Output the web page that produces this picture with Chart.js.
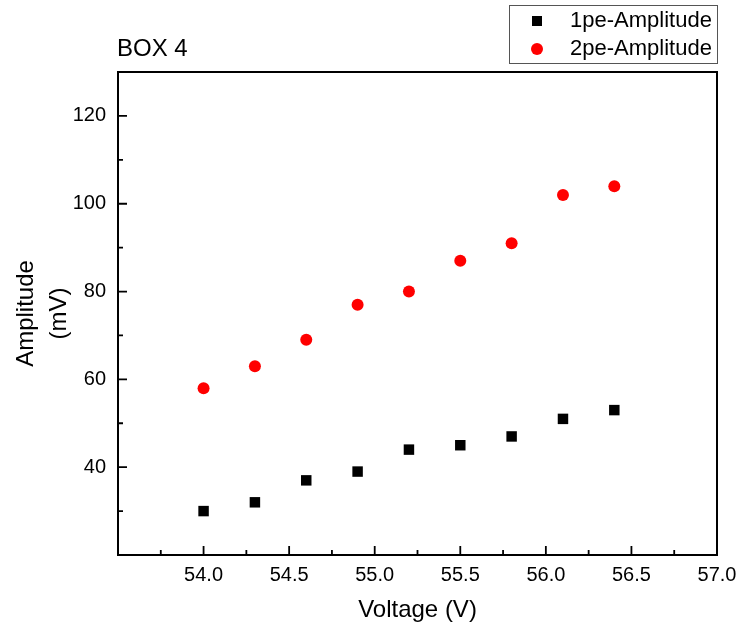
<!DOCTYPE html>
<html>
<head>
<meta charset="utf-8">
<script src="https://cdn.jsdelivr.net/npm/chart.js@4.4.1/dist/chart.umd.min.js"></script>
<style>
  body { margin: 0; background: #fff; }
  canvas { display: block; }
</style>
</head>
<body>
<canvas id="c" width="738" height="627"></canvas>
<script>
const voltages = [54.0, 54.3, 54.6, 54.9, 55.2, 55.5, 55.8, 56.1, 56.4];
const amp1pe = [30, 32, 37, 39, 44, 45, 47, 51, 53];
const amp2pe = [58, 63, 69, 77, 80, 87, 91, 102, 104];
const xTicks = [54.0, 54.5, 55.0, 55.5, 56.0, 56.5, 57.0];
const xMinor = [53.75, 54.25, 54.75, 55.25, 55.75, 56.25, 56.75];
const yTicks = [40, 60, 80, 100, 120];
const yMinor = [30, 50, 70, 90, 110];

Chart.defaults.font.family = '"Liberation Sans", Arial, sans-serif';
Chart.defaults.color = '#000';

function pts(ys) {
  return ys.map((y, i) => ({x: voltages[i], y: y}));
}

// frame, inward ticks, title and legend box
const decor = {
  id: 'decor',
  afterDraw(chart) {
    const ctx = chart.ctx;
    const a = chart.chartArea;
    const xs = chart.scales.x, ys = chart.scales.y;
    ctx.save();
    ctx.strokeStyle = '#000';
    ctx.lineWidth = 2;
    ctx.beginPath();
    ctx.moveTo(a.left, a.top); ctx.lineTo(a.right, a.top); ctx.lineTo(a.right, a.bottom);
    ctx.stroke();

    ctx.lineWidth = 1.8;
    ctx.beginPath();
    xTicks.forEach(v => { const p = xs.getPixelForValue(v); ctx.moveTo(p, a.bottom); ctx.lineTo(p, a.bottom - 9); });
    xMinor.forEach(v => { const p = xs.getPixelForValue(v); ctx.moveTo(p, a.bottom); ctx.lineTo(p, a.bottom - 5); });
    yTicks.forEach(v => { const p = ys.getPixelForValue(v); ctx.moveTo(a.left, p); ctx.lineTo(a.left + 9, p); });
    yMinor.forEach(v => { const p = ys.getPixelForValue(v); ctx.moveTo(a.left, p); ctx.lineTo(a.left + 5, p); });
    ctx.stroke();

    // title
    ctx.fillStyle = '#000';
    ctx.font = '24px "Liberation Sans", Arial, sans-serif';
    ctx.textBaseline = 'middle';
    ctx.textAlign = 'left';
    ctx.fillText('BOX 4', 117, 49);

    // legend
    ctx.strokeStyle = '#555';
    ctx.lineWidth = 1;
    ctx.strokeRect(509.5, 5.5, 208, 58);
    ctx.font = '22px "Liberation Sans", Arial, sans-serif';
    chart.data.datasets.forEach((ds, i) => {
      const cy = 21 + i * 28;
      ctx.fillStyle = ds.backgroundColor;
      if (ds.pointStyle === 'rect') {
        ctx.fillRect(532, cy - 5, 10, 10);
      } else {
        ctx.beginPath(); ctx.arc(537, cy, 6, 0, Math.PI * 2); ctx.fill();
      }
      ctx.fillStyle = '#000';
      ctx.fillText(ds.label, 570, cy);
    });
    ctx.restore();
  }
};

new Chart(document.getElementById('c'), {
  type: 'scatter',
  data: {
    datasets: [
      {
        label: '1pe-Amplitude',
        data: pts(amp1pe),
        pointStyle: 'rect',
        pointRadius: 7.4,
        backgroundColor: '#000000',
        borderWidth: 0
      },
      {
        label: '2pe-Amplitude',
        data: pts(amp2pe),
        pointStyle: 'circle',
        pointRadius: 6,
        backgroundColor: '#ff0000',
        borderWidth: 0
      }
    ]
  },
  options: {
    responsive: false,
    animation: false,
    layout: { padding: { top: 72, right: 21, left: 0, bottom: 0 } },
    plugins: {
      legend: { display: false },
      title: { display: false },
      tooltip: { enabled: false }
    },
    scales: {
      x: {
        type: 'linear',
        min: 53.5,
        max: 57,
        afterBuildTicks: s => { s.ticks = xTicks.map(v => ({value: v})); },
        afterFit: s => { s.height = 72; s.paddingLeft = 0; s.paddingRight = 0; },
        grid: { display: false, drawTicks: false },
        border: { display: true, color: '#000', width: 2 },
        ticks: {
          font: { size: 20 },
          color: '#000',
          padding: 8,
          maxRotation: 0,
          callback: v => Number(v).toFixed(1)
        },
        title: {
          display: true,
          text: 'Voltage (V)',
          font: { size: 24 },
          color: '#000',
          padding: { top: 0, bottom: 2 }
        }
      },
      y: {
        min: 20,
        max: 130,
        afterBuildTicks: s => { s.ticks = yTicks.map(v => ({value: v})); },
        afterFit: s => { s.width = 118; s.paddingTop = 0; s.paddingBottom = 0; },
        grid: { display: false, drawTicks: false },
        border: { display: true, color: '#000', width: 2 },
        ticks: {
          font: { size: 20 },
          color: '#000',
          padding: 12
        },
        title: {
          display: true,
          text: ['Amplitude', '(mV)'],
          font: { size: 24, lineHeight: 1.375 },
          color: '#000',
          padding: { top: 10, bottom: 0 }
        }
      }
    }
  },
  plugins: [decor]
});
</script>
</body>
</html>
